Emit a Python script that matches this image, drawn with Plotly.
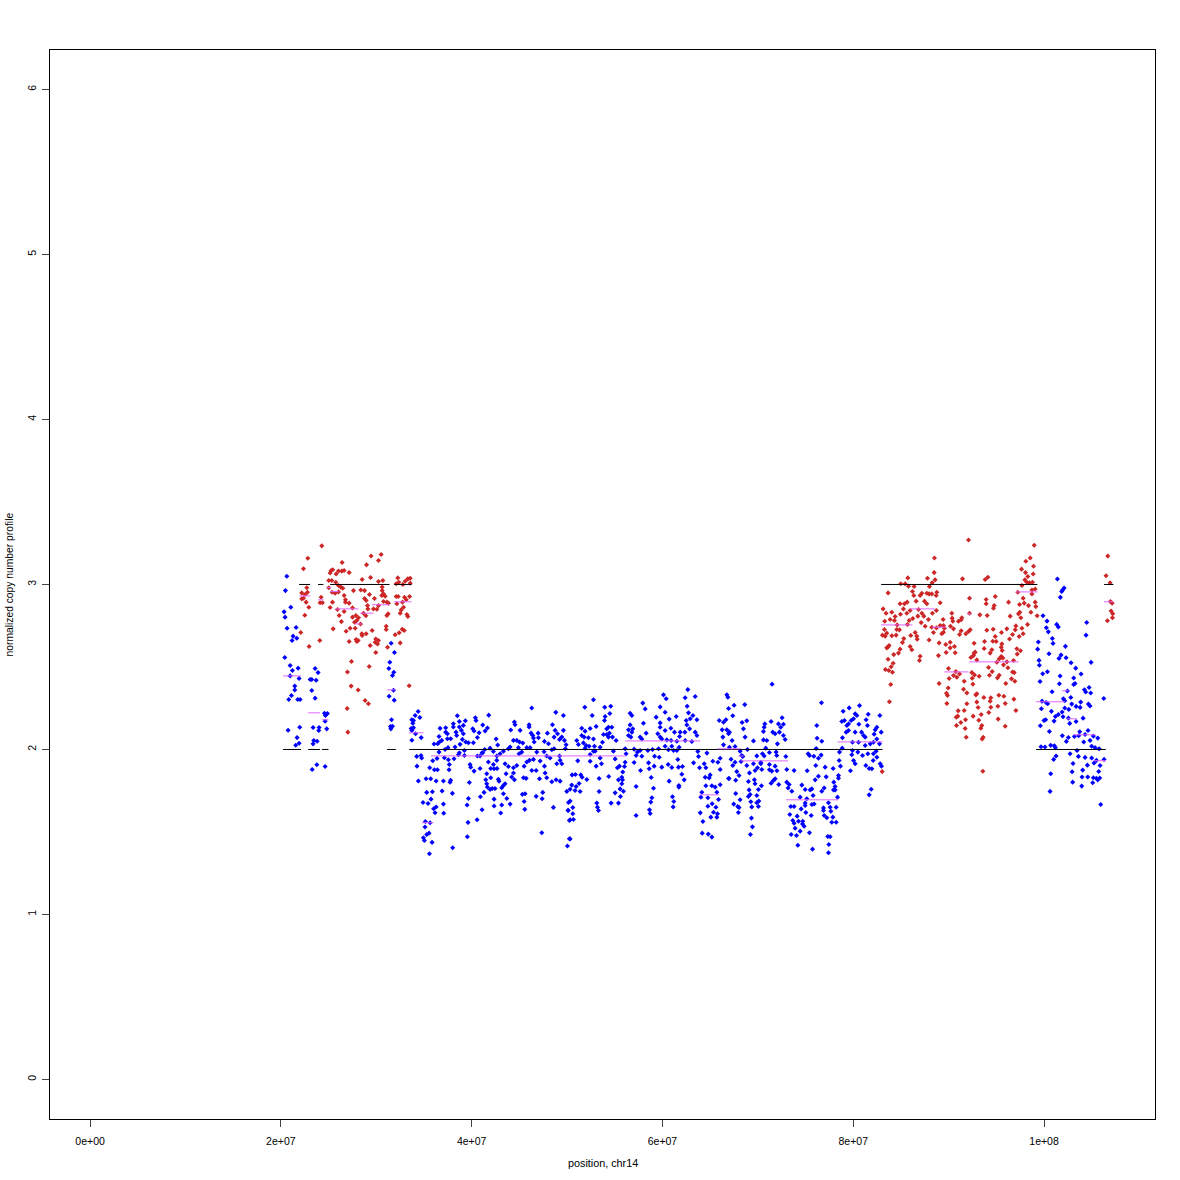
import plotly.graph_objects as go

# position in megabases, normalized copy number
blue_points = [
(20.62,3.050),(20.48,2.963),(21.04,2.862),(20.34,2.834),(20.44,2.802),(20.65,2.735),(21.60,2.739),(21.28,2.687),(21.67,2.674),(21.18,2.660),
(20.41,2.557),(20.97,2.509),(21.21,2.479),(21.81,2.493),(20.97,2.446),(21.91,2.430),(21.46,2.384),(21.46,2.361),(21.11,2.327),(20.83,2.303),
(21.77,2.303),(22.02,2.303),(20.76,2.117),(21.98,2.135),(21.70,2.072),(21.91,2.038),(21.56,2.026),(23.59,2.491),(23.90,2.466),(23.07,2.424),
(23.24,2.424),(23.70,2.420),(23.24,2.357),(23.59,2.311),(23.38,2.133),(24.01,2.133),(23.97,2.115),(23.38,2.034),(23.45,2.054),(23.80,2.050),
(24.57,2.220),(24.88,2.218),(24.67,2.206),(24.64,2.171),(24.81,2.125),(23.28,1.879),(23.77,1.907),(24.64,1.897),(31.56,2.644),(31.91,2.588),
(31.42,2.529),(31.32,2.491),(31.84,2.468),(31.70,2.448),(31.81,2.359),(31.35,2.323),(31.88,2.299),(31.60,2.180),(31.49,2.139),(31.70,2.141),
(31.53,2.125),(34.39,2.230),(34.08,2.206),(34.57,2.194),(33.73,2.180),(33.90,2.176),(33.83,2.159),(33.66,2.127),(33.90,2.131),(33.73,2.115),
(34.12,2.095),(34.71,2.072),(33.73,2.056),
(34.41,1.809),(35.22,1.823),(35.71,1.823),(36.27,1.809),(35.29,1.740),(35.88,1.744),(35.74,1.699),(34.90,1.679),(35.43,1.673),(36.27,1.651),
(36.02,1.641),(36.16,1.617),(35.15,1.564),(35.64,1.556),(35.11,1.530),(35.29,1.485),(35.53,1.493),(34.94,1.465),(35.04,1.449),(35.85,1.437),
(35.57,1.368),(34.27,1.899),(34.69,1.964),(34.76,1.948),(34.24,1.958),(35.60,1.889),(36.09,1.877),(36.41,1.877),(36.37,1.946),(35.92,1.932),
(36.58,1.984),(36.06,2.033),(36.44,2.035),(36.62,2.045),(36.86,2.055),(36.58,2.079),(36.69,2.128),(37.28,2.132),(37.28,2.105),(37.46,2.095),
(37.46,2.065),(37.80,2.065),(38.08,2.156),(38.08,2.136),(38.50,2.204),(38.71,2.170),(39.13,2.146),(39.34,2.174),(38.71,2.136),(38.36,2.105),
(38.43,2.085),(38.92,2.116),(39.13,2.095),(39.03,2.061),(39.38,2.045),(39.66,2.041),(40.18,2.041),(38.78,2.031),(38.26,2.015),(37.52,2.011),
(37.21,2.000),(38.71,1.980),(38.61,1.968),(39.24,1.994),(37.14,1.950),(37.56,1.938),(38.15,1.944),(37.66,1.909),(37.63,1.877),(39.24,1.964),
(39.83,1.909),(39.90,1.893),(40.25,1.869),(40.88,1.885),(40.88,1.960),(40.60,1.960),(41.09,1.980),(41.37,2.000),(41.93,2.008),(41.16,2.148),
(41.79,2.208),(40.39,2.192),(40.46,2.176),(40.11,2.126),(40.25,2.112),(40.78,2.101),(40.60,2.073),(41.41,2.112),(41.65,2.130),(42.56,2.063),
(42.73,2.027),(42.28,1.988),(42.98,1.974),(42.63,1.960),(43.33,1.990),(43.85,2.004),(44.03,2.015),(41.75,1.924),(41.16,1.980),(42.28,1.909),
(42.00,1.885),(42.35,1.883),(42.66,1.885),(42.63,1.934),(41.58,1.853),(42.00,1.829),(41.48,1.817),(41.58,1.792),(41.65,1.772),(42.80,1.819),
(42.87,1.808),(41.93,1.758),(42.17,1.764),(42.45,1.764),(41.30,1.740),(40.92,1.714),(43.15,1.768),(43.33,1.782),(43.50,1.792),(43.33,1.732),
(43.68,1.703),(42.35,1.699),(42.35,1.657),(43.15,1.663),(44.03,1.669),(43.05,1.615),(41.09,1.635),(39.66,1.703),(39.52,1.663),(37.04,1.669),
(36.90,1.748),(37.98,1.734),(37.04,1.809),(37.80,1.813),(37.73,1.802),(39.76,1.800),(37.07,1.613),(39.62,1.558),(40.57,1.574),(39.55,1.471),
(38.01,1.404),(43.61,1.853),(43.50,1.914),(43.85,1.897),(44.38,1.889),(44.73,1.903),(44.38,1.857),(44.20,1.833),(44.48,1.817),(44.10,2.118),
(44.48,2.166),(44.55,2.150),(45.08,2.116),(44.38,2.055),(44.73,2.055),(45.01,2.045),(45.36,2.039),(44.90,2.011),(45.25,1.984),(44.97,1.974),
(46.02,2.150),(46.02,2.136),(46.30,2.251),(46.23,2.099),(46.41,2.085),(46.55,2.045),(46.48,2.069),(46.97,2.099),(47.00,2.071),(45.78,2.011),
(46.13,2.011),(46.48,1.940),(45.78,1.924),(46.06,1.934),(45.50,1.899),(46.30,1.873),(46.76,1.873),(45.43,1.829),(45.71,1.825),(47.18,1.930),
(47.63,1.899),(47.11,1.823),(47.87,1.829),(47.70,1.857),(45.60,1.732),(45.32,1.728),(45.50,1.685),(45.57,1.637),(46.76,1.716),(47.45,1.740),
(47.39,1.701),(47.35,1.495),(48.57,1.649),(47.63,2.049),(48.05,2.035),(47.94,2.099),(48.47,2.150),(48.82,2.225),(46.83,1.984),(47.59,1.986),
(47.87,1.960),(48.22,1.948),(48.40,1.998),(48.64,2.004),(48.64,2.075),(48.75,2.116),(49.00,2.095),(49.62,2.116),(49.45,2.075),(49.62,2.206),
(49.21,2.061),(49.73,2.055),(49.90,2.029),(49.82,2.004),(49.21,1.960),(49.27,1.934),(48.92,1.913),(49.45,1.913),(48.85,1.817),(49.27,1.808),
(48.40,1.804),(49.97,1.746),(50.15,1.679),(50.11,1.631),(50.25,1.570),(50.04,1.415),(50.25,1.459),
(51.86,2.256),(52.77,2.301),(52.63,2.206),(53.95,2.256),(54.58,2.262),(54.48,2.218),(53.99,2.200),(53.92,2.176),(53.05,2.139),(51.54,2.129),
(51.89,2.111),(52.42,2.127),(51.54,2.085),(51.79,2.075),(52.24,2.071),(52.77,2.064),(51.02,2.054),(51.19,2.030),(51.72,2.040),(52.00,2.024),
(52.87,2.020),(52.31,2.020),(51.89,2.008),(53.71,2.044),(53.47,2.014),(54.16,2.125),(54.34,2.135),(54.69,2.135),(53.82,2.091),(54.16,2.091),
(54.44,2.099),(54.34,2.075),(54.76,2.075),(55.14,2.054),(54.86,1.990),(52.77,1.990),(52.42,1.970),(52.94,1.990),(52.42,1.929),(53.05,1.899),
(53.61,1.913),(53.47,1.949),(51.12,1.931),(55.04,1.943),(55.28,1.889),(55.49,1.899),(56.02,1.897),(56.09,1.923),(55.84,1.864),(56.09,2.004),
(56.19,1.974),(50.88,1.848),(50.53,1.846),(51.44,1.846),(51.58,1.832),(52.07,1.818),(53.36,1.824),(54.37,1.836),(55.39,1.816),(55.81,1.816),
(55.74,1.832),(55.74,1.792),(51.26,1.794),(50.49,1.784),(50.32,1.759),(50.84,1.751),(51.37,1.745),(50.95,1.776),(53.36,1.745),(55.04,1.737),
(55.56,1.761),(55.91,1.747),(55.60,1.715),(50.32,1.687),(50.60,1.648),(50.11,1.630),(50.60,1.610),(50.32,1.574),(50.67,1.576),(53.12,1.675),
(53.19,1.650),(53.29,1.630),(54.62,1.675),(55.39,1.675),(50.32,1.458),(57.24,1.600),(57.24,1.776),(56.61,2.220),(56.79,2.206),(57.94,2.281),
(58.19,2.246),(60.11,2.331),(60.39,2.307),(59.76,2.258),(59.34,2.196),(60.28,2.226),(60.70,2.184),(61.44,2.200),(62.66,2.363),(62.38,2.313),
(63.43,2.321),(62.59,2.262),(62.73,2.222),(63.19,2.206),(62.91,2.186),(62.49,2.176),(63.61,2.180),(62.56,2.149),(59.76,2.161),(59.76,2.135),
(58.01,2.159),(56.61,2.149),(56.44,2.119),(56.89,2.125),(56.79,2.105),(56.44,2.085),(56.69,2.075),(57.66,2.075),(57.84,2.064),(58.29,2.099),
(59.51,2.095),(59.76,2.075),(60.28,2.115),(60.88,2.129),(61.26,2.105),(61.86,2.105),(62.35,2.105),(62.84,2.125),(63.43,2.105),(63.61,2.085),
(63.08,2.048),(59.93,2.064),(60.46,2.058),(60.91,2.054),(61.51,2.050),(61.79,2.079),(62.38,2.054),(57.03,2.002),(57.66,1.994),(57.38,1.984),
(57.24,1.963),(57.84,1.959),(57.03,1.921),(58.47,1.994),(58.96,2.000),(59.17,1.959),(59.66,1.953),(59.59,2.004),(60.28,2.020),(60.63,1.998),
(61.16,1.994),(61.51,1.994),(60.98,2.020),(61.75,2.014),(63.71,1.988),(63.78,1.957),(61.61,1.939),(58.54,1.919),(59.93,1.893),(59.13,1.899),
(60.60,1.909),(60.98,1.891),(61.68,1.893),(62.10,1.897),(62.03,1.850),(63.26,1.919),(63.89,1.889),(57.70,1.873),(58.61,1.883),(58.82,1.830),
(60.70,1.808),(62.28,1.816),(61.72,1.782),(61.72,1.772),(59.06,1.765),(58.89,1.707),(58.78,1.681),(58.64,1.634),(58.71,1.612),(61.05,1.713),
(61.19,1.685),(61.12,1.652),(64.66,1.978),(64.38,1.913),(65.28,1.929),(65.81,1.923),(66.05,1.947),(66.05,1.879),(64.55,1.889),(64.48,1.832),
(65.00,1.846),(64.90,1.828),(66.93,1.824),(66.05,1.786),(64.55,1.780),(64.13,1.741),(64.03,1.711),(65.18,1.780),(65.53,1.772),(65.70,1.741),
(65.88,1.697),(64.76,1.707),(65.21,1.671),(64.76,1.656),(65.60,1.650),(63.96,1.616),(65.35,1.620),(65.77,1.610),(65.07,1.590),(65.70,1.590),
(64.24,1.563),(64.17,1.493),(64.80,1.487),(65.18,1.469),(65.95,2.176),(66.40,2.165),(66.65,2.180),(66.26,2.119),(66.75,2.119),(66.93,2.095),
(66.33,2.075),(66.40,2.028),(66.75,2.331),(66.86,2.317),(66.93,2.248),
(71.49,2.396),(67.51,2.268),(68.63,2.272),(67.37,2.204),(68.35,2.163),(68.84,2.174),(67.02,2.105),(68.49,2.125),(68.66,2.075),(69.54,2.052),
(67.30,2.054),(67.02,2.014),(67.61,2.018),(68.14,1.990),(68.91,2.000),(70.73,2.155),(70.66,2.135),(70.59,2.109),(71.39,2.170),(72.16,2.155),
(72.54,2.192),(72.68,2.153),(71.56,2.105),(71.81,2.095),(72.26,2.105),(72.40,2.135),(72.68,2.085),(72.86,2.060),(70.59,2.058),(70.94,2.054),
(72.05,2.034),(70.83,2.008),(71.21,1.982),(70.48,1.974),(70.66,1.961),(71.91,1.984),(71.98,1.963),(72.93,1.957),(69.89,1.961),(68.31,1.963),
(68.42,1.957),(67.19,1.941),(67.61,1.923),(67.37,1.903),(68.24,1.927),(68.84,1.903),(69.54,1.913),(70.31,1.923),(70.31,1.913),(71.21,1.909),
(71.81,1.899),(69.71,1.873),(69.96,1.889),(70.41,1.879),(71.21,1.877),(71.46,1.869),(72.00,1.871),(69.12,1.858),(67.79,1.866),(68.03,1.842),
(66.98,1.824),(67.68,1.814),(69.01,1.806),(69.64,1.816),(69.71,1.792),(70.38,1.780),(70.06,1.757),(69.08,1.755),(69.19,1.727),(69.01,1.715),
(69.89,1.721),(67.68,1.733),(68.14,1.695),(69.26,1.683),(70.10,1.687),(69.89,1.677),(70.06,1.654),(69.36,1.652),(67.47,1.669),(67.89,1.654),
(68.03,1.648),(67.96,1.618),(69.33,1.584),(69.43,1.531),(69.22,1.485),(71.39,1.796),(71.63,1.812),(71.81,1.822),(72.19,1.788),(73.03,1.879),
(73.80,1.873),(75.17,1.871),(73.03,1.802),(73.28,1.788),(73.17,1.767),(73.56,1.747),(74.61,1.784),(74.96,1.757),(75.48,1.755),(75.66,1.761),
(76.01,1.816),(76.35,1.838),(77.16,1.834),(76.07,1.903),(77.05,1.893),(77.89,1.885),(75.27,1.974),(75.41,1.963),(75.87,1.959),(76.11,2.006),
(76.35,1.947),(76.63,1.966),(76.18,2.145),(76.67,2.283),(76.21,2.068),(76.70,2.050),(77.96,1.802),(78.10,1.776),(77.93,1.755),(78.45,1.842),
(78.45,1.826),(76.95,1.767),(76.70,1.747),(78.10,1.755),(74.43,1.711),(75.79,1.721),(78.35,1.711),(73.45,1.654),(73.80,1.654),(74.54,1.640),
(74.96,1.675),(75.13,1.701),(74.96,1.660),(75.66,1.667),(75.90,1.670),(76.88,1.646),(77.40,1.677),(77.58,1.650),(78.21,1.650),(76.88,1.630),
(77.65,1.626),(75.03,1.618),(75.59,1.600),(73.35,1.606),(74.12,1.596),(76.95,1.600),(77.23,1.586),(77.86,1.590),(78.21,1.559),(77.75,1.559),
(73.66,1.570),(73.80,1.553),(74.26,1.565),(74.71,1.565),(74.68,1.549),(74.85,1.535),(73.91,1.523),(74.43,1.505),(73.49,1.485),(74.05,1.479),
(75.41,1.495),(77.33,1.473),(77.58,1.471),(77.44,1.424),(74.19,1.420),(75.73,1.396),(77.40,1.374),(78.94,2.232),(79.57,2.252),(80.66,2.266),
(80.20,2.216),(80.38,2.206),(81.57,2.214),(82.79,2.206),(81.35,2.180),(79.78,2.176),(80.03,2.186),(78.80,2.170),(79.08,2.176),(80.59,2.153),
(81.49,2.145),(79.33,2.145),(79.50,2.155),(79.50,2.115),(79.26,2.105),(80.20,2.105),(80.87,2.105),(81.08,2.085),(82.30,2.119),(82.47,2.135),
(82.19,2.093),(82.93,2.105),(82.47,2.064),(81.25,2.075),(78.87,2.071),(79.92,2.044),(80.55,2.044),(81.25,2.024),(81.78,2.034),(82.12,2.044),
(82.75,2.034),(78.84,2.008),(78.56,1.984),(79.92,1.994),(79.85,1.968),(80.48,1.984),(80.97,1.963),(81.53,1.974),(82.12,1.974),(82.40,1.990),
(82.47,1.953),(78.52,1.933),(78.66,1.899),(80.03,1.933),(80.20,1.913),(81.32,1.903),(81.67,1.885),(81.95,1.883),(82.09,1.933),(82.82,1.913),
(82.96,1.899),(79.71,1.871),(81.88,1.759),(81.67,1.725),
(101.40,3.033),(102.10,2.978),(101.96,2.968),(101.85,2.958),(101.71,2.922),(99.89,2.810),(100.31,2.778),(100.24,2.738),(100.45,2.713),(101.33,2.758),
(101.50,2.742),(104.47,2.770),(104.40,2.693),(100.87,2.673),(99.40,2.651),(100.94,2.643),(102.24,2.625),(99.33,2.608),(100.52,2.580),(101.78,2.572),
(101.57,2.552),(102.31,2.556),(99.47,2.540),(99.51,2.511),(102.83,2.526),(104.93,2.528),(103.32,2.493),(100.35,2.471),(99.86,2.459),(103.88,2.457),
(101.68,2.445),(103.11,2.433),(99.58,2.412),(103.25,2.400),(101.61,2.398),(103.11,2.394),(104.72,2.376),(104.23,2.362),(104.37,2.348),(104.89,2.342),
(102.45,2.354),(100.84,2.350),(102.80,2.315),(102.03,2.307),(102.17,2.295),(106.26,2.309),(99.79,2.293),(100.21,2.285),(100.38,2.277),(102.90,2.275),
(103.84,2.287),(104.65,2.275),(104.82,2.263),(103.36,2.261),(103.78,2.255),(99.72,2.247),(102.17,2.251),(102.59,2.243),(100.77,2.231),(101.89,2.227),
(101.50,2.212),(101.19,2.200),(101.99,2.198),(104.09,2.190),(102.55,2.190),(100.17,2.180),(99.99,2.176),(101.05,2.172),(103.36,2.170),(102.69,2.158),
(99.61,2.144),(100.56,2.109),(103.74,2.107),(104.61,2.115),(101.92,2.083),(104.30,2.091),(103.18,2.079),(103.63,2.083),(102.55,2.073),(105.17,2.081),
(105.63,2.069),(104.82,2.055),(102.34,2.049),(104.16,2.045),(100.70,2.025),(99.68,2.017),(100.10,2.015),(101.08,2.023),(101.19,2.011),(104.99,2.020),
(105.35,2.011),(105.77,2.004),(103.46,1.994),(102.73,1.974),(103.60,1.958),(104.30,1.952),(104.99,1.948),(101.26,1.960),(101.01,1.940),(106.29,1.940),
(105.49,1.934),(105.24,1.918),(103.04,1.915),(104.54,1.905),(105.87,1.903),(104.05,1.875),(102.94,1.865),(105.73,1.867),(100.70,1.853),(103.98,1.833),
(104.58,1.833),(105.17,1.829),(105.49,1.825),(105.63,1.816),(105.84,1.827),(105.10,1.798),(103.00,1.802),(103.95,1.778),(100.63,1.746),(105.94,1.667),
]

red_points = [
(24.29,3.234),(22.82,3.159),(22.37,3.095),(22.19,2.949),(22.72,2.980),(22.79,2.953),(22.54,2.939),(22.19,2.913),(22.37,2.917),(22.65,2.893),
(22.93,2.862),(22.51,2.814),(22.09,2.709),(24.08,2.660),(22.96,2.624),(24.22,2.923),(24.11,2.889),(24.36,2.889),(25.27,3.085),(25.44,3.089),
(25.16,3.070),(25.79,3.064),(26.04,3.081),(26.39,3.081),(26.63,3.085),(26.42,3.133),(27.16,3.072),(25.02,3.024),(25.34,3.024),(25.76,3.014),
(26.04,2.994),(26.28,2.984),(26.49,2.977),(25.02,2.980),(25.37,2.953),(25.69,2.947),(26.04,2.955),(26.63,2.933),(27.61,2.963),(25.41,2.893),
(25.16,2.860),(26.77,2.907),(26.77,2.893),(27.16,2.887),(26.63,2.836),(26.11,2.812),(26.35,2.775),(25.93,2.848),(25.48,2.731),(26.84,2.717),
(27.26,2.735),(27.79,2.735),(27.51,2.802),(27.86,2.812),(28.14,2.798),(27.96,2.782),(27.72,2.771),(28.35,2.761),(27.51,2.858),(27.16,2.654),
(27.89,2.666),(28.10,2.660),(27.96,2.654),(28.49,2.701),(28.94,2.701),(29.57,2.721),(29.36,2.630),(28.52,2.691),(29.95,2.670),(30.23,2.660),
(29.88,2.650),(30.13,2.640),(31.18,2.620),(29.95,2.588),(27.40,2.533),(26.98,2.470),(29.26,2.503),(27.37,2.384),(28.10,2.361),(28.83,2.297),
(29.18,2.277),(26.95,2.248),(27.02,2.105),(33.45,2.386),(29.46,3.173),(30.51,3.182),(30.23,3.145),(28.98,3.119),(29.40,3.042),(28.52,3.030),
(30.23,3.018),(30.69,3.024),(28.38,2.967),(28.77,2.963),(29.29,2.939),(29.81,2.915),(28.77,2.915),(28.94,2.903),(29.08,2.872),(29.12,2.852),
(29.71,2.852),(30.06,2.850),(30.62,2.984),(30.62,2.963),(30.76,2.943),(30.58,2.933),(30.93,2.929),(30.76,2.897),(31.11,2.893),(30.23,2.872),
(31.28,2.887),(31.25,2.822),(31.11,2.812),(28.66,2.826),(28.91,2.810),(31.04,2.747),(31.04,2.727),(32.26,3.040),(32.09,3.004),(32.37,3.014),
(33.03,3.020),(32.79,3.000),(33.31,3.034),(33.56,3.038),(33.56,3.008),(32.09,2.927),(32.30,2.927),(33.49,2.927),(32.96,2.923),(33.14,2.907),
(32.16,2.883),(32.75,2.893),(32.86,2.862),(32.61,2.846),(32.51,2.826),(33.21,2.818),(33.31,2.806),(32.72,2.729),(32.93,2.721),(32.40,2.707),
(31.98,2.695),(32.51,2.646),
(83.03,1.866),(83.79,2.289),(83.93,2.394),(83.65,2.949),(85.72,3.040),(84.98,3.004),(85.44,3.004),(85.79,2.990),(86.38,2.988),(86.21,2.957),
(86.35,2.933),(87.78,3.038),(88.27,3.010),(87.99,2.988),(88.48,3.072),(88.58,3.028),(88.51,3.161),(92.08,3.270),(91.45,3.034),(93.83,3.030),
(94.11,3.044),(98.97,3.238),(98.55,3.161),(98.09,3.141),(98.90,3.111),(97.64,3.093),(98.06,3.072),(98.86,3.064),(98.30,3.048),(97.99,3.028),
(98.20,3.014),(98.48,3.010),(98.79,3.014),(97.68,2.994),(99.07,2.973),(98.73,2.967),(97.25,2.953),(98.73,2.943),(97.81,2.917),(99.07,2.893),
(99.14,2.866),(97.92,2.887),(97.43,2.879),(98.37,2.872),(98.62,2.832),(99.28,2.810),(97.46,2.832),(97.32,2.822),(97.57,2.798),(98.27,2.757),
(97.68,2.735),(97.05,2.749),(96.98,2.725),(97.81,2.701),(97.39,2.685),(96.70,2.697),(96.38,2.670),(96.10,2.731),(95.54,2.709),(94.88,2.685),
(94.67,2.729),(94.00,2.723),(94.88,2.927),(93.93,2.909),(93.93,2.883),(94.77,2.872),(94.70,2.856),(96.28,2.893),(96.45,2.808),(93.27,2.816),
(94.04,2.812),(92.19,2.917),(92.19,2.826),(91.38,2.798),(91.31,2.786),(91.03,2.777),(90.33,2.826),(90.37,2.796),(90.44,2.777),(89.42,2.788),
(89.11,2.889),(88.76,2.953),(87.19,2.947),(87.71,2.947),(87.95,2.943),(88.23,2.943),(88.69,2.933),(87.47,2.899),(87.71,2.883),(88.72,2.842),
(86.59,2.899),(87.01,2.933),(85.65,2.893),(85.37,2.883),(84.91,2.883),(85.26,2.852),(85.96,2.842),(85.61,2.826),(86.84,2.848),(87.19,2.826),
(88.30,2.826),(87.40,2.808),(86.77,2.808),(86.24,2.794),(85.86,2.782),(84.95,2.820),(84.39,2.806),(84.04,2.832),(83.44,2.826),(83.13,2.852),
(83.86,2.788),(83.30,2.777),(84.32,2.782),(84.60,2.755),(85.68,2.757),(87.12,2.769),(87.88,2.788),(87.54,2.747),(88.23,2.741),(88.72,2.737),
(89.11,2.751),(89.46,2.751),(89.56,2.735),(90.19,2.747),(90.51,2.731),(89.28,2.701),(89.46,2.711),(88.41,2.709),(86.49,2.709),(83.27,2.727),
(83.51,2.705),(84.56,2.727),(84.84,2.725),(83.06,2.693),(83.34,2.687),(84.04,2.689),(84.49,2.693),(86.03,2.691),(86.66,2.687),(86.70,2.668),
(85.30,2.672),(85.16,2.648),(87.95,2.664),(89.00,2.646),(91.31,2.719),(91.14,2.697),(91.80,2.701),(92.08,2.715),(92.26,2.725),(92.67,2.644),
(93.72,2.612),(93.76,2.654),(94.63,2.656),(94.98,2.654),(95.58,2.640),(95.51,2.620),(95.61,2.600),(94.53,2.604),(94.35,2.584),(92.67,2.584),
(92.78,2.590),(92.33,2.557),(92.60,2.569),(92.95,2.543),(95.51,2.563),(95.30,2.549),(95.68,2.555),(97.15,2.610),(97.53,2.598),(97.19,2.578),
(96.80,2.539),(96.10,2.531),(95.05,2.529),(95.75,2.513),(96.21,2.495),(94.18,2.497),(94.56,2.472),(94.28,2.450),(95.30,2.450),(95.12,2.434),
(96.70,2.470),(96.87,2.466),(96.59,2.428),(96.94,2.414),(95.99,2.400),(83.76,2.630),(83.62,2.620),(83.51,2.616),(84.91,2.608),(84.74,2.584),
(84.25,2.575),(85.96,2.624),(86.14,2.604),(87.01,2.565),(86.94,2.539),(83.65,2.547),(84.18,2.523),(83.97,2.501),(83.37,2.485),(83.72,2.479),
(84.11,2.468),(88.93,2.569),(89.70,2.636),(89.74,2.588),(90.16,2.650),(90.16,2.616),(90.61,2.624),(90.68,2.586),(89.98,2.491),(90.75,2.472),
(91.14,2.458),(90.51,2.448),(90.86,2.438),(92.43,2.466),(92.71,2.452),(93.20,2.444),(92.47,2.432),(91.63,2.414),(92.54,2.396),(89.00,2.400),
(90.05,2.430),(89.95,2.373),(89.77,2.341),(89.88,2.327),(89.81,2.279),(91.56,2.365),(91.91,2.343),(92.95,2.337),(92.85,2.331),(93.69,2.315),
(94.42,2.313),(94.35,2.293),(95.26,2.329),(95.79,2.323),(96.84,2.305),(92.95,2.287),(91.91,2.277),(95.93,2.279),(95.16,2.262),(93.09,2.254),
(94.42,2.256),(91.63,2.236),(91.00,2.234),(97.05,2.236),(94.21,2.224),(93.41,2.212),(92.57,2.202),(90.96,2.202),(90.79,2.196),(91.77,2.180),
(91.28,2.163),(95.19,2.184),(93.16,2.177),(90.82,2.145),(93.48,2.145),(93.37,2.129),(95.93,2.141),(91.73,2.127),(91.84,2.074),(93.62,2.074),
(93.51,2.064),(93.58,1.868),
(106.68,3.172),(106.50,3.053),(106.92,3.010),(106.96,2.897),(107.13,2.887),(107.03,2.839),(107.20,2.823),(107.17,2.798),(106.64,2.780),
]

# integer copy-number segments: start, end (Mb), level
copy_segments = [
(21.91,23.07,3),(23.90,24.46,3),(25.16,31.39,3),(31.88,33.70,3),(82.92,99.30,3),(106.29,107.27,3),
(20.23,22.12,2),(22.86,24.11,2),(24.32,24.99,2),(31.14,32.05,2),(33.45,83.07,2),(99.16,106.47,2),
]

# fitted segments: start, end (Mb), level
fit_segments = [
(20.23,22.12,2.446),(21.95,23.07,2.931),(22.86,24.11,2.222),(23.90,24.46,2.907),(24.32,24.99,2.180),(24.81,25.27,2.982),
(25.16,26.04,2.957),(25.72,28.14,2.852),(27.79,28.49,2.761),(28.31,29.71,2.826),(29.53,31.39,2.877),(31.14,32.05,2.361),
(31.88,33.70,2.895),(33.45,34.95,2.101),(34.76,35.99,1.556),(35.74,56.19,1.961),(56.09,63.96,2.052),(63.89,65.91,1.725),
(65.77,68.14,2.004),(67.96,68.50,1.960),(68.20,73.14,1.931),(72.96,78.45,1.695),(78.35,83.07,2.046),(82.92,86.21,2.755),
(85.96,88.58,2.852),(88.23,89.70,2.741),(89.53,92.08,2.470),(91.91,92.36,2.822),(92.15,97.32,2.531),(97.08,99.32,2.955),
(99.16,102.20,2.289),(101.89,102.55,2.356),(102.38,103.43,2.186),(103.15,105.38,2.089),(105.17,106.50,1.932),(106.29,107.27,2.895),
]

x_ticks = [0, 20, 40, 60, 80, 100]
x_tick_labels = ["0e+00", "2e+07", "4e+07", "6e+07", "8e+07", "1e+08"]
y_ticks = [0, 1, 2, 3, 4, 5, 6]
x_title = "position, chr14"
y_title = "normalized copy number profile"


def seg_xy(segs):
    xs, ys = [], []
    for a, b, v in segs:
        xs += [a, b, None]
        ys += [v, v, None]
    return xs, ys


fig = go.Figure()
for name, pts, col in [("blue", blue_points, "#0000FF"), ("red", red_points, "#CD2626")]:
    fig.add_trace(go.Scatter(
        x=[p[0] for p in pts], y=[p[1] for p in pts], mode="markers", name=name,
        marker=dict(symbol="diamond", size=3.9, color=col, line=dict(width=0)),
    ))
sx, sy = seg_xy(copy_segments)
fig.add_trace(go.Scatter(x=sx, y=sy, mode="lines", line=dict(color="#000000", width=1), name="copy number"))
fx, fy = seg_xy(fit_segments)
fig.add_trace(go.Scatter(x=fx, y=fy, mode="lines", line=dict(color="#E066FF", width=1), name="segments"))

FONT = "Liberation Sans, Arial, sans-serif"
fig.update_layout(
    width=1180, height=1180, autosize=False, showlegend=False,
    margin=dict(l=50, r=25, t=50, b=61),
    paper_bgcolor="white", plot_bgcolor="white",
    font=dict(family=FONT, size=10.5, color="#000000"),
    annotations=[
        dict(text=x_title, xref="paper", yref="paper", x=0.5, y=0, yshift=-44, yanchor="middle",
             showarrow=False, font=dict(size=10.8)),
        dict(text=y_title, xref="paper", yref="paper", x=0, y=0.5, xshift=-41, xanchor="center",
             yanchor="middle", textangle=-90, showarrow=False, font=dict(size=10.3)),
    ],
)
fig.update_xaxes(
    range=[-4.2, 111.63], tickmode="array", tickvals=x_ticks, ticktext=x_tick_labels, automargin=False,
    showgrid=False, zeroline=False, showline=True, mirror=True, linecolor="black", linewidth=1,
    ticks="outside", ticklen=7, tickcolor="#444444", tickwidth=1, tickfont=dict(size=10.5), ticklabelstandoff=5,
)
fig.update_yaxes(
    range=[-0.2396, 6.2394], tickmode="array", tickvals=y_ticks, ticktext=[str(v) for v in y_ticks], automargin=False,
    showgrid=False, zeroline=False, showline=True, mirror=True, linecolor="black", linewidth=1,
    ticks="outside", ticklen=7, tickcolor="#444444", tickwidth=1, tickangle=-90, tickfont=dict(size=10.5), ticklabelstandoff=2,
)
fig.write_html(
    "out.html",
    config={"displayModeBar": False},
    post_script="document.body.style.margin='0';document.documentElement.style.overflow='hidden';",
)
